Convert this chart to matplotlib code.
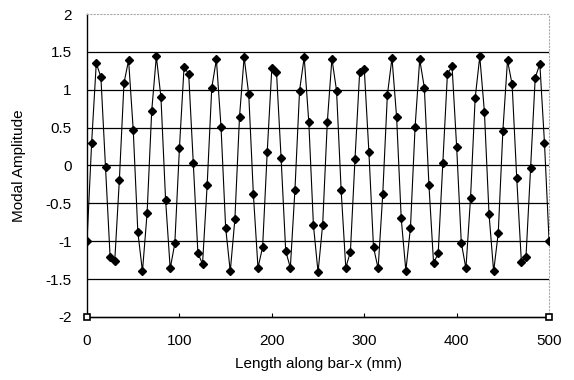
import numpy as np
import matplotlib
matplotlib.use("Agg")
import matplotlib.pyplot as plt

plt.rcParams['font.family'] = ['Liberation Sans', 'DejaVu Sans']

# stations along the bar (mm), one every 5 mm
x_mm = np.arange(0, 501, 5)
amp = [-1.00, 0.30, 1.35, 1.17, -0.02, -1.21, -1.26, -0.19, 1.09, 1.39,
       0.47, -0.88, -1.40, -0.63, 0.72, 1.44, 0.90, -0.45, -1.36, -1.03,
       0.23, 1.30, 1.21, 0.03, -1.16, -1.30, -0.26, 1.03, 1.40, 0.51,
       -0.82, -1.40, -0.71, 0.64, 1.43, 0.94, -0.38, -1.35, -1.08, 0.18,
       1.29, 1.24, 0.10, -1.13, -1.35, -0.32, 0.99, 1.43, 0.57, -0.79,
       -1.41, -0.78, 0.57, 1.41, 0.99, -0.33, -1.35, -1.14, 0.09, 1.23,
       1.28, 0.18, -1.08, -1.36, -0.38, 0.93, 1.42, 0.64, -0.70, -1.39,
       -0.82, 0.51, 1.40, 1.03, -0.26, -1.29, -1.16, 0.03, 1.21, 1.31,
       0.24, -1.02, -1.36, -0.43, 0.89, 1.44, 0.71, -0.64, -1.40, -0.89,
       0.46, 1.39, 1.07, -0.17, -1.27, -1.21, -0.03, 1.16, 1.34, 0.30,
       -1.00]

# supports drawn at the bottom
sup_x = [0, 500]
sup_y = [-2, -2]

fig = plt.figure(figsize=(5.74, 3.80), dpi=100)
ax = fig.add_axes([0.1516, 0.166, 0.805, 0.797])

for yv in [-1.5, -1, -0.5, 0, 0.5, 1, 1.5]:
    ax.axhline(yv, color='black', lw=0.9, zorder=1)

ax.plot(x_mm, amp, color='black', lw=0.8, marker='D', ms=4, zorder=3)
ax.plot(sup_x, sup_y, color='black', lw=0.9, marker='s', ms=4,
        mfc='white', mec='black', mew=1.2, zorder=4, clip_on=False)

ax.set_xlim(0, 500)
ax.set_ylim(-2, 2)
ax.set_xticks([0, 100, 200, 300, 400, 500])
ax.set_yticks([-2, -1.5, -1, -0.5, 0, 0.5, 1, 1.5, 2])
ax.set_yticklabels(['-2', '-1.5', '-1', '-0.5', '0', '0.5', '1', '1.5', '2'])

for s in ['top', 'right']:
    ax.spines[s].set_color('#aaaaaa')
    ax.spines[s].set_linestyle((0, (1, 2)))
    ax.spines[s].set_linewidth(0.8)
ax.spines['left'].set_linewidth(1.0)
ax.spines['bottom'].set_linewidth(1.0)

ax.tick_params(axis='x', direction='in', length=3, labelsize=11, pad=12)
ax.tick_params(axis='y', length=0, labelsize=11, pad=11)

ax.set_xlabel('Length along bar-x (mm)', fontsize=11, labelpad=7)
ax.set_ylabel('Modal Amplitude', fontsize=11, labelpad=14)

fig.savefig('out.png', dpi=100)
